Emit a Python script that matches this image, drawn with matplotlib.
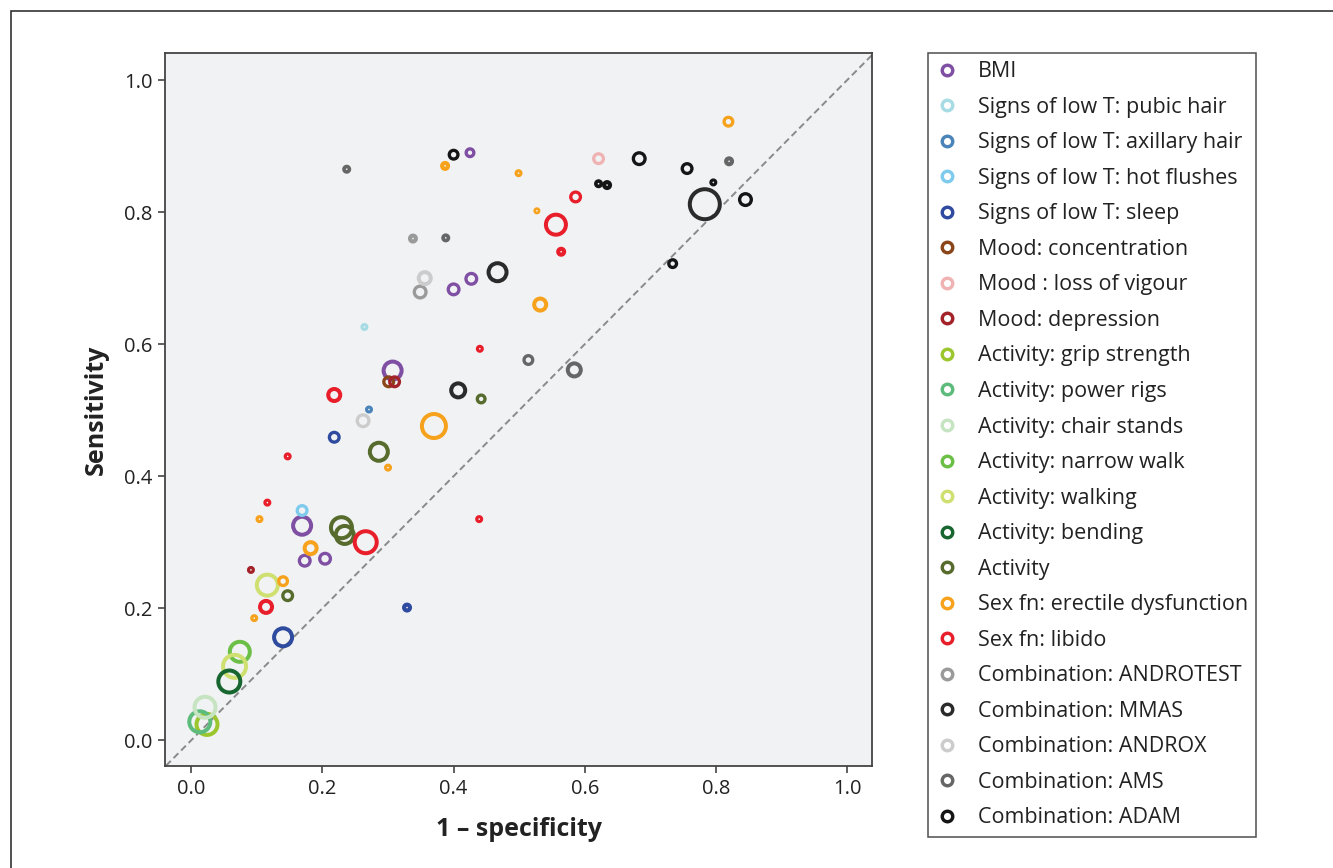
import matplotlib
matplotlib.use("Agg")
import matplotlib.pyplot as plt
from matplotlib.lines import Line2D
from matplotlib.patches import Rectangle

plt.rcParams['font.family'] = ['Open Sans', 'DejaVu Sans']

# legend categories and their colours
categories = ['BMI', 'Signs of low T: pubic hair', 'Signs of low T: axillary hair',
              'Signs of low T: hot flushes', 'Signs of low T: sleep', 'Mood: concentration',
              'Mood : loss of vigour', 'Mood: depression', 'Activity: grip strength',
              'Activity: power rigs', 'Activity: chair stands', 'Activity: narrow walk',
              'Activity: walking', 'Activity: bending', 'Activity',
              'Sex fn: erectile dysfunction', 'Sex fn: libido', 'Combination: ANDROTEST',
              'Combination: MMAS', 'Combination: ANDROX', 'Combination: AMS',
              'Combination: ADAM']
colours = ['#7f4fa3', '#a8dce5', '#4a84b8', '#7ecbee', '#2f4b9f', '#8a4519',
           '#f0b3b3', '#a32329', '#9cc62e', '#5dbb7c', '#c6e4c1', '#6cbf46',
           '#cfe071', '#17652f', '#566b2c', '#f7a21c', '#e81f2a', '#9a9a9a',
           '#2b2b2b', '#cccccc', '#666666', '#151515']

# one entry per study: 1-specificity, sensitivity, category index, relative weight
fpr = [0.425, 0.400, 0.427, 0.307, 0.169, 0.173, 0.204,
       0.264,
       0.271,
       0.169,
       0.218, 0.140, 0.329,
       0.301,
       0.621,
       0.310, 0.091,
       0.024,
       0.013,
       0.021,
       0.074,
       0.066, 0.116,
       0.058,
       0.442, 0.286, 0.229, 0.234, 0.147,
       0.819, 0.387, 0.499, 0.527, 0.532, 0.370, 0.300, 0.104, 0.182, 0.140, 0.096,
       0.586, 0.556, 0.564, 0.440, 0.218, 0.147, 0.116, 0.266, 0.439, 0.114,
       0.338, 0.349,
       0.467, 0.407, 0.783,
       0.356, 0.262,
       0.237, 0.388, 0.820, 0.514, 0.584,
       0.400, 0.683, 0.756, 0.621, 0.634, 0.796, 0.845, 0.734]
sens = [0.890, 0.683, 0.699, 0.560, 0.325, 0.272, 0.275,
        0.626,
        0.501,
        0.348,
        0.459, 0.156, 0.201,
        0.543,
        0.881,
        0.543, 0.258,
        0.024,
        0.028,
        0.050,
        0.134,
        0.112, 0.235,
        0.089,
        0.517, 0.437, 0.322, 0.311, 0.219,
        0.937, 0.870, 0.859, 0.802, 0.660, 0.476, 0.413, 0.335, 0.291, 0.241, 0.185,
        0.823, 0.781, 0.740, 0.593, 0.523, 0.430, 0.360, 0.300, 0.335, 0.202,
        0.760, 0.679,
        0.709, 0.530, 0.812,
        0.700, 0.484,
        0.865, 0.761, 0.877, 0.576, 0.561,
        0.887, 0.881, 0.866, 0.843, 0.841, 0.845, 0.819, 0.722]
cat = [0] * 7 + [1] + [2] + [3] + [4] * 3 + [5] + [6] + [7] * 2 + [8] + [9] + [10] \
    + [11] + [12] * 2 + [13] + [14] * 5 + [15] * 11 + [16] * 10 + [17] * 2 \
    + [18] * 3 + [19] * 2 + [20] * 5 + [21] * 8
weight = [11, 14, 14, 22, 22, 14, 14,
          8,
          8,
          13,
          13, 22, 10,
          13,
          13,
          13, 8,
          25,
          25,
          25,
          24,
          27, 25,
          26,
          11, 22, 25, 22, 13,
          12, 10, 8, 7, 16, 28, 8, 8, 16, 12, 8,
          13, 24, 10, 8, 16, 8, 8, 26, 8, 16,
          10, 15,
          22, 18, 34,
          16, 15,
          9, 9, 10, 12, 17,
          12, 15, 13, 9, 10, 8, 15, 11]

px = 72 / 100  # points per pixel at dpi 100

fig = plt.figure(figsize=(13.33, 8.68), dpi=100)
ax = fig.add_axes([0.1238, 0.1175, 0.5304, 0.8214])
ax.set_facecolor('#f1f2f4')

ax.plot([-0.05, 1.05], [-0.05, 1.05], ls=(0, (3.5, 2)), color='#8a8a8a', lw=1.4, zorder=1)

for k in range(len(categories)):
    idx = [i for i in range(len(cat)) if cat[i] == k]
    if not idx:
        continue
    xs = [fpr[i] for i in idx]
    ys = [sens[i] for i in idx]
    edge = []
    for i in idx:
        if weight[i] <= 10:
            edge.append(weight[i] / 2 - 0.9)
        elif weight[i] <= 15:
            edge.append(3.3)
        else:
            edge.append(4.0)
    diam = [(weight[i] - e) * px for i, e in zip(idx, edge)]
    ax.scatter(xs, ys, s=[d ** 2 for d in diam], facecolors='none',
               edgecolors=colours[k], linewidths=[e * px for e in edge], zorder=3)

ax.set_xlim(-0.04, 1.038)
ax.set_ylim(-0.039, 1.041)
ticks = [0.0, 0.2, 0.4, 0.6, 0.8, 1.0]
ax.set_xticks(ticks)
ax.set_yticks(ticks)
ax.set_xticklabels(['%.1f' % t for t in ticks])
ax.set_yticklabels(['%.1f' % t for t in ticks])
ax.tick_params(length=5, width=1.2, color='#444444', labelsize=14.5,
               labelcolor='#222222', pad=4)
for s in ax.spines.values():
    s.set_color('#444444')
    s.set_linewidth(1.3)
ax.set_xlabel('1 \u2013 specificity', fontsize=18, fontweight='bold', color='#222222', labelpad=13)
ax.set_ylabel('Sensitivity', fontsize=18, fontweight='bold', color='#222222', labelpad=11)

handles = [Line2D([], [], ls='none', marker='o', ms=10.5 * px, mew=3.4 * px,
                  mfc='none', mec=c) for c in colours]
leg = fig.legend(handles, categories, loc='upper left', bbox_to_anchor=(0.6962, 0.9389),
                 borderaxespad=0, frameon=True, fancybox=False, fontsize=15.5,
                 labelspacing=0.675, handlelength=1.0, handletextpad=0.95,
                 borderpad=0.38, labelcolor='#222222')
leg.get_frame().set_edgecolor('#222222')
leg.get_frame().set_linewidth(1.1)

fig.patches.append(Rectangle((11 / 1333, -0.05), 1.1, 1 - 11 / 868 + 0.05,
                             transform=fig.transFigure, fill=False,
                             edgecolor='#333333', lw=1.2))

fig.savefig('out.png', dpi=100)
